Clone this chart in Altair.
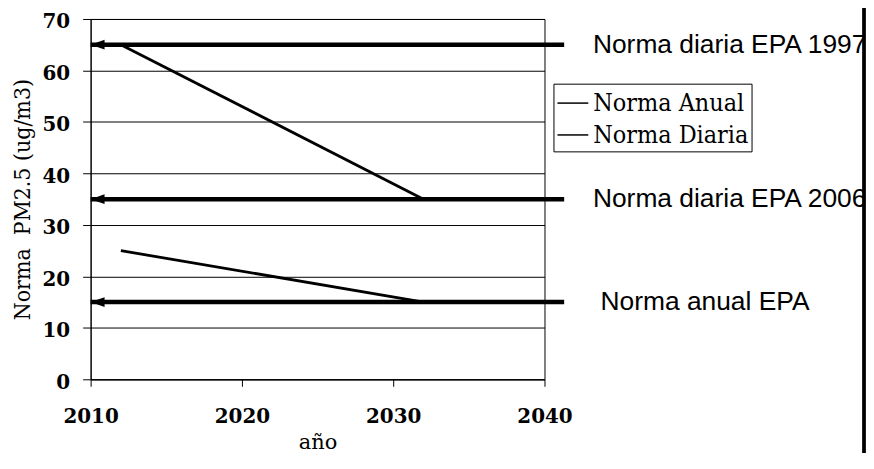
import altair as alt
import pandas as pd

# ---- data ----
series_names = ["Norma Anual", "Norma Diaria"]
years_anual = [2012, 2032]
vals_anual = [25, 15]
years_diaria = [2012, 2032]
vals_diaria = [65, 35]

epa_levels = [65, 35, 15]
epa_labels = ["Norma diaria EPA 1997", "Norma diaria EPA 2006", "Norma anual EPA"]
epa_label_x = [2043.2, 2043.2, 2043.7]
arrow_from = 2010
arrow_to = 2041.3

x_ticks = [2010, 2020, 2030, 2040]
y_ticks = [0, 10, 20, 30, 40, 50, 60, 70]

lines_df = pd.DataFrame({
    "year": years_anual + years_diaria,
    "value": vals_anual + vals_diaria,
    "serie": [series_names[0]] * len(years_anual) + [series_names[1]] * len(years_diaria),
})
arrows_df = pd.DataFrame({
    "x0": [arrow_from] * len(epa_levels),
    "x1": [arrow_to] * len(epa_levels),
    "y": epa_levels,
    "label": epa_labels,
    "lx": epa_label_x,
})

SERIF = "DejaVu Serif"
LEGEND_SERIF = "'DejaVu Serif Condensed', 'DejaVu Serif', serif"
SANS = "'Liberation Sans', Arial, sans-serif"

xs = alt.Scale(domain=[2010, 2040], nice=False, zero=False)
ys = alt.Scale(domain=[0, 70], nice=False)

x_axis = alt.Axis(
    values=x_ticks, format="d", title="año", grid=False,
    tickSize=7, labelPadding=30, labelBaseline="middle", labelFlush=False,
    labelAlign="center", labelBound=False, labelOverlap=False,
    labelFont=SERIF, labelFontSize=20, labelFontWeight="bold", labelColor="black",
    titleFont=SERIF, titleFontSize=21, titleFontWeight="normal", titleColor="black",
    titleX=228, titleY=64, titleBaseline="middle", titleAlign="center",
    domainColor="black", tickColor="black",
)
y_axis = alt.Axis(
    values=y_ticks, title="Norma\u00a0 PM2.5 (ug/m3)", grid=True,
    gridColor="black", gridOpacity=1, gridWidth=1,
    tickSize=8, labelPadding=13, labelOffset=3, labelFlush=False,
    labelBaseline="middle", labelOverlap=False,
    labelFont=SERIF, labelFontSize=20, labelFontWeight="bold", labelColor="black",
    titleFont=LEGEND_SERIF, titleFontSize=23, titleFontWeight="normal", titleColor="black",
    titleX=-68, titleY=181, titleAngle=-90, titleBaseline="middle", titleAlign="center",
    domainColor="black", tickColor="black",
)

lines = alt.Chart(lines_df).mark_line(strokeWidth=2.8).encode(
    x=alt.X("year:Q", scale=xs, axis=x_axis),
    y=alt.Y("value:Q", scale=ys, axis=y_axis),
    color=alt.Color(
        "serie:N",
        scale=alt.Scale(domain=series_names, range=["black", "black"]),
        legend=alt.Legend(
            orient="none", legendX=465, legendY=65, title=None,
            symbolType="stroke", symbolSize=961, symbolStrokeWidth=1.5,
            symbolStrokeColor="black",
            labelFont=LEGEND_SERIF, labelFontSize=25, labelColor="black",
            labelOffset=4, rowPadding=2, padding=3,
            strokeColor="black", fillColor="white",
        ),
    ),
)

arrows = alt.Chart(arrows_df).mark_rule(strokeWidth=4.5, color="black").encode(
    x=alt.X("x0:Q", scale=xs, axis=x_axis),
    x2="x1:Q",
    y=alt.Y("y:Q", scale=ys, axis=y_axis),
)

heads = alt.Chart(arrows_df).mark_point(
    shape="M0,0L2,-0.7L2,0.7Z", filled=True, color="black", size=196, opacity=1
).encode(
    x=alt.X("x0:Q", scale=xs, axis=x_axis),
    y=alt.Y("y:Q", scale=ys, axis=y_axis),
)

labels = alt.Chart(arrows_df).mark_text(
    align="left", baseline="middle", font=SANS, fontSize=26.5, color="black"
).encode(
    x=alt.X("lx:Q", scale=xs, axis=x_axis),
    y=alt.Y("y:Q", scale=ys, axis=y_axis),
    text="label:N",
)

border = alt.Chart(arrows_df).mark_rule(strokeWidth=3, color="black").encode(
    x=alt.value(777), y=alt.value(-18), y2=alt.value(440)
)

chart = alt.layer(lines, arrows, heads, labels, border).properties(
    width=456, height=362,
    background="white",
    autosize=alt.AutoSizeParams(type="none"),
    padding={"left": 83, "top": 10, "right": 323, "bottom": 73},
).configure_view(stroke="black", strokeWidth=1)

chart.save("out.html", embed_options={"renderer": "svg", "actions": False})
